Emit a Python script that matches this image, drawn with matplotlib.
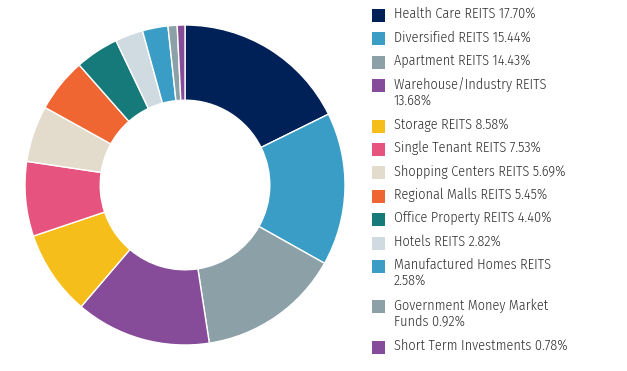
import matplotlib

matplotlib.use("Agg")
import matplotlib.pyplot as plt  # noqa: E402
from matplotlib.patches import Rectangle  # noqa: E402

# ── Data ──
categories = [
    "Health Care REITS",
    "Diversified REITS",
    "Apartment REITS",
    "Warehouse/Industry REITS",
    "Storage REITS",
    "Single Tenant REITS",
    "Shopping Centers REITS",
    "Regional Malls REITS",
    "Office Property REITS",
    "Hotels REITS",
    "Manufactured Homes REITS",
    "Government Money Market Funds",
    "Short Term Investments",
]
weights = [17.70, 15.44, 14.43, 13.68, 8.58, 7.53, 5.69, 5.45, 4.40, 2.82, 2.58, 0.92, 0.78]
colors = [
    "#002157", "#3a9dc6", "#8ca0a8", "#864b99", "#f5be1a", "#e6537f", "#e3dccd",
    "#f06633", "#167a7b", "#cfdbe1", "#3a9dc6", "#8ca0a8", "#864b99",
]
# where the legend text wraps onto a second line
wrap_after = {
    "Warehouse/Industry REITS": "Warehouse/Industry REITS",
    "Manufactured Homes REITS": "Manufactured Homes REITS",
    "Government Money Market Funds": "Government Money Market",
}

FONT = ["Fira Sans Condensed", "DejaVu Sans"]

W, H = 627, 371
fig = plt.figure(figsize=(W / 100, H / 100), dpi=100, facecolor="white")

# donut: centre (185, 185) px from top-left, outer radius ~160 px
cx, cy, r = 185, 185, 160
ax = fig.add_axes([(cx - r) / W, (H - cy - r) / H, 2 * r / W, 2 * r / H])
ax.pie(
    weights,
    colors=colors,
    startangle=90,
    counterclock=False,
    radius=1.0,
    wedgeprops=dict(width=0.47, edgecolor="white", linewidth=1.0),
)
ax.set_aspect("equal")
ax.set_xlim(-1, 1)
ax.set_ylim(-1, 1)
ax.axis("off")

# ── Legend, drawn by hand ──
y = 15.5
for name, value, color in zip(categories, weights, colors):
    if name in wrap_after:
        first = wrap_after[name]
        rest = name[len(first):].strip()
        label = f"{first}\n{(rest + ' ') if rest else ''}{value:.2f}%"
    else:
        label = f"{name} {value:.2f}%"
    n_lines = label.count("\n") + 1
    fig.patches.append(
        Rectangle(
            (372 / W, (H - y - 6.5) / H), 13 / W, 13 / H,
            transform=fig.transFigure, facecolor=color, edgecolor="none",
        )
    )
    fig.text(
        394 / W, (H - y + 8.5) / H, label,
        ha="left", va="top", fontsize=10.2, family=FONT, weight=300,
        color="#2e2e2e", linespacing=1.15,
    )
    y += 23.4 + 17 * (n_lines - 1)

fig.savefig("out.png", dpi=100, facecolor="white")
